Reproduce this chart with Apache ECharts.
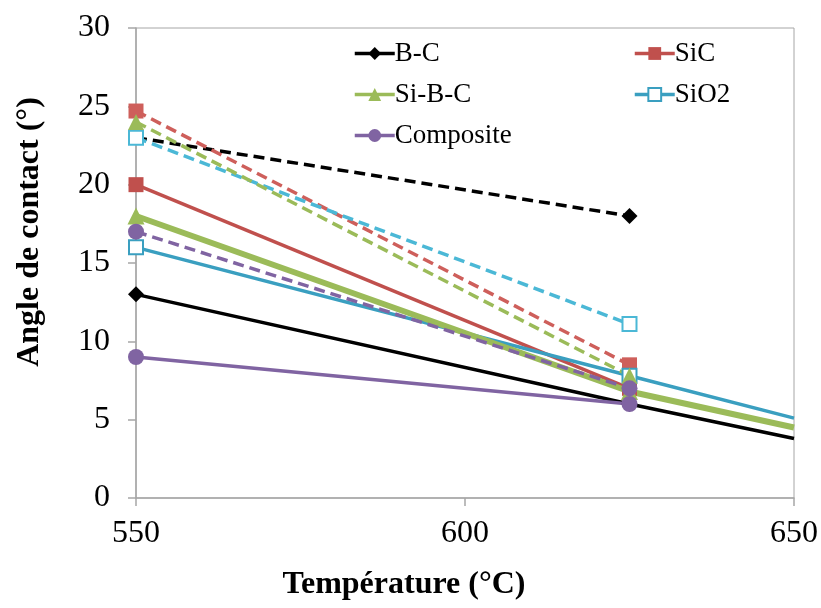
<!DOCTYPE html>
<html>
<head>
<meta charset="utf-8">
<script src="https://cdn.jsdelivr.net/npm/echarts@6/dist/echarts.min.js"></script>
<style>html,body{margin:0;padding:0;background:#fff;}#c{width:821px;height:608px;}</style>
</head>
<body>
<div id="c"></div>
<script>
// Temperatures (°C) of the data points
const temps = [550, 625, 650];
// Solid series (legend series); last value = line extension to the axis edge
const bcSolid   = [13, 6, 3.8];
const sicSolid  = [20, 7, null];
const sibcSolid = [18, 6.8, 4.5];
const sio2Solid = [16, 7.8, 5.1];
const compSolid = [9, 6, null];
// Dashed series
const bcDashed   = [23, 18];
const sicDashed  = [24.7, 8.5];
const sibcDashed = [24, 7.8];
const sio2Dashed = [23, 11.1];
const compDashed = [17, 7];
// Axis ticks
const xTicks = [550, 600, 650];
const yTicks = [0, 5, 10, 15, 20, 25, 30];
const legendLeft = ['B-C', 'Si-B-C', 'Composite'];
const legendRight = ['SiC', 'SiO2'];

const FONT = '"Liberation Serif", "Times New Roman", serif';

function pts(vals) {
  const out = [];
  vals.forEach((v, i) => {
    if (v === null || v === undefined) return;
    const p = { value: [temps[i], v] };
    if (i === 2) p.symbol = 'none';
    out.push(p);
  });
  return out;
}

function solid(name, vals, color, symbol, size, width, extra) {
  return Object.assign({
    name: name, type: 'line', data: pts(vals),
    symbol: symbol, symbolSize: size, showAllSymbol: true,
    lineStyle: { color: color, width: width },
    itemStyle: { color: color, borderColor: color, borderWidth: 0, opacity: 1 },
    emphasis: { disabled: true }, animation: false, clip: true
  }, extra || {});
}
function dashed(name, vals, color, symbol, size, extra) {
  return Object.assign({
    name: name, type: 'line', data: pts(vals),
    symbol: symbol, symbolSize: size, showAllSymbol: true,
    lineStyle: { color: color, width: 3.5, type: [11, 6] },
    itemStyle: { color: color, borderColor: color, borderWidth: 0, opacity: 1 },
    emphasis: { disabled: true }, animation: false
  }, extra || {});
}

const red = '#C0504D', green = '#9BBB59', blue = '#3A9FC0', blueD = '#4BB8D6', purple = '#8064A2';

const legendCommon = {
  orient: 'vertical', top: 35, itemWidth: 40, itemHeight: 16, itemGap: 14,
  lineStyle: { width: 3.5 },
  textStyle: { fontFamily: FONT, fontSize: 27, color: '#000', padding: [0, 0, 0, -5] },
  selectedMode: false
};

const chart = echarts.init(document.getElementById('c'), null, { renderer: 'canvas' });
chart.setOption({
  backgroundColor: '#fff',
  animation: false,
  grid: { left: 136, right: 26, top: 28, bottom: 110, show: true, borderColor: '#A6A6A6', borderWidth: 1, backgroundColor: 'transparent' },
  xAxis: {
    type: 'value', min: xTicks[0], max: xTicks[xTicks.length - 1], interval: xTicks[1] - xTicks[0],
    axisLine: { show: true, onZero: false, lineStyle: { color: '#A6A6A6', width: 1.5 } },
    axisTick: { show: true, length: 8, lineStyle: { color: '#A6A6A6', width: 1.5 } },
    splitLine: { show: false },
    axisLabel: { margin: 20, color: '#000', fontFamily: FONT, fontSize: 32 }
  },
  yAxis: {
    type: 'value', min: yTicks[0], max: yTicks[yTicks.length - 1], interval: yTicks[1] - yTicks[0],
    axisLine: { show: true, lineStyle: { color: '#A6A6A6', width: 1.5 } },
    axisTick: { show: true, length: 8, lineStyle: { color: '#A6A6A6', width: 1.5 } },
    splitLine: { show: false },
    axisLabel: { margin: 26, color: '#000', fontFamily: FONT, fontSize: 32 }
  },
  legend: [
    Object.assign({ data: legendLeft, left: 348 }, legendCommon),
    Object.assign({ data: legendRight, left: 628 }, legendCommon)
  ],
  graphic: [
    { type: 'text', x: 30, y: 232, rotation: Math.PI / 2,
      style: { text: 'Angle de contact (°)', font: 'bold 32px ' + FONT, fill: '#000', textAlign: 'center', textVerticalAlign: 'middle' } },
    { type: 'text', x: 404, y: 585,
      style: { text: 'Température (°C)', font: 'bold 32px ' + FONT, fill: '#000', textAlign: 'center', textVerticalAlign: 'middle' } }
  ],
  series: [
    solid('B-C', bcSolid, '#000', 'diamond', 16, 3.5),
    dashed('B-C dashed', bcDashed, '#000', 'diamond', 16, { data: [{ value: [temps[0], bcDashed[0]], symbol: 'circle', symbolSize: 12 }, { value: [temps[1], bcDashed[1]] }] }),
    dashed('SiC dashed', sicDashed, '#CE5F5B', 'rect', 15),
    solid('SiC', sicSolid, red, 'rect', 15, 3.5),
    dashed('SiO2 dashed', sio2Dashed, blueD, 'rect', 14, { itemStyle: { color: '#fff', borderColor: blueD, borderWidth: 2, opacity: 1 } }),
    solid('SiO2', sio2Solid, blue, 'rect', 14, 3.5, { itemStyle: { color: '#fff', borderColor: blue, borderWidth: 2, opacity: 1 } }),
    dashed('Si-B-C dashed', sibcDashed, green, 'triangle', 16),
    solid('Si-B-C', sibcSolid, green, 'triangle', 17, 6),
    dashed('Composite dashed', compDashed, purple, 'circle', 16),
    solid('Composite', compSolid, purple, 'circle', 16, 3.5)
  ]
});
</script>
</body>
</html>
